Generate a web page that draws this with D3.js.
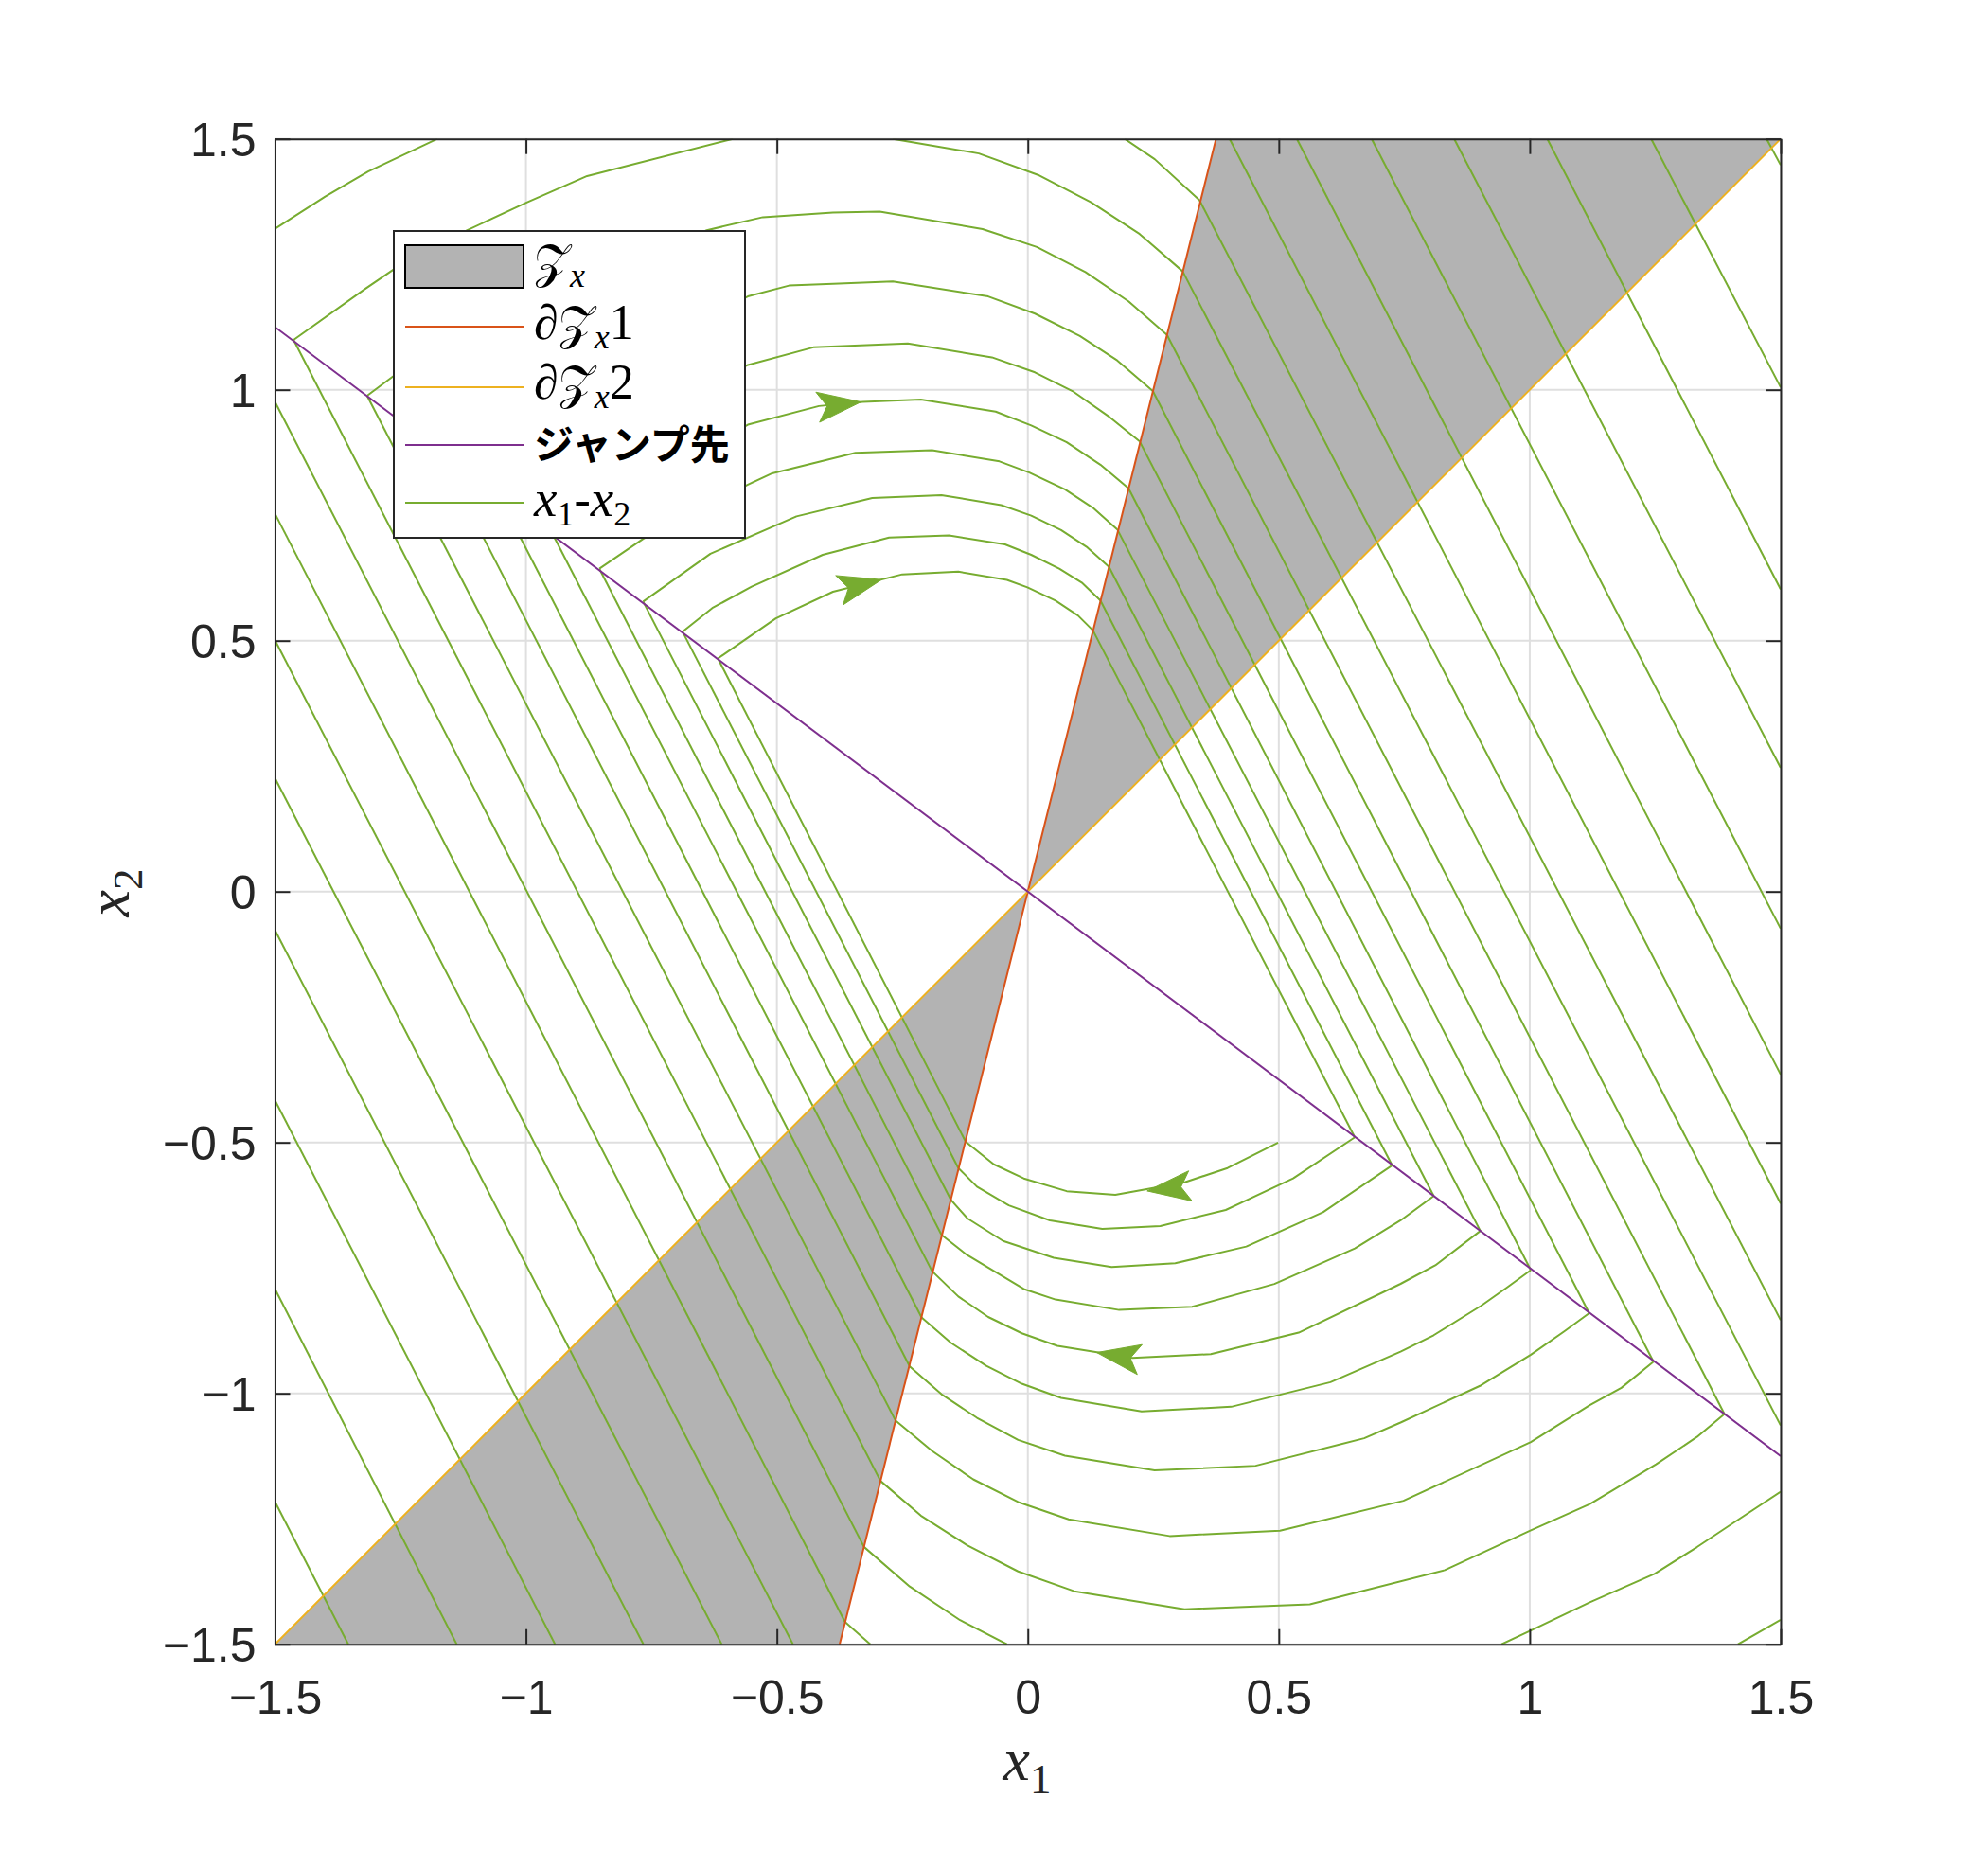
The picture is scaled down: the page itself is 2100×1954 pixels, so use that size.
<!DOCTYPE html>
<html>
<head>
<meta charset="utf-8">
<script src="https://cdn.jsdelivr.net/npm/d3@7"></script>
<style>
html,body{margin:0;padding:0;background:#fff;}
svg{display:block;}
</style>
</head>
<body>
<svg id="chart" width="2100" height="1954"></svg>
<script>
// ---------------- data ----------------
const xTickValues = [-1.5, -1, -0.5, 0, 0.5, 1, 1.5];
const yTickValues = [-1.5, -1, -0.5, 0, 0.5, 1, 1.5];
const xTickLabels = ["\u22121.5", "\u22121", "\u22120.5", "0", "0.5", "1", "1.5"];
const yTickLabels = ["\u22121.5", "\u22121", "\u22120.5", "0", "0.5", "1", "1.5"];

// Z_x region (two wedges)
const zoneRegions = [
  [[0, 0], [0.375, 1.5], [1.5, 1.5]],
  [[0, 0], [-0.375, -1.5], [-1.5, -1.5]]
];
const boundary1 = [[-0.375, -1.5], [0.375, 1.5]];   // ∂Z_x 1
const boundary2 = [[-1.5, -1.5], [1.5, 1.5]];       // ∂Z_x 2
const jumpTarget = [[-1.5, 1.125], [1.5, -1.125]];  // ジャンプ先

// flow arcs in the upper half (clockwise, moving right)
const upperArcs = [
  [[-1.5, 1.321], [-1.4, 1.3851], [-1.3144, 1.4351], [-1.1765, 1.5]],
  [[0.193, 1.5], [0.2528, 1.4596], [0.3421, 1.3776]],
  [[-1.463, 1.0995], [-1.3218, 1.2002], [-1.2637, 1.2398], [-1.1169, 1.318], [-0.9975, 1.3738], [-0.8782, 1.426], [-0.5876, 1.5]],
  [[-0.269, 1.5], [-0.0976, 1.4709], [0.0202, 1.4283], [0.1259, 1.3738], [0.2228, 1.3105], [0.3086, 1.236]],
  [[-1.3165, 0.988], [-1.266, 1.0258], [-0.6398, 1.318], [-0.528, 1.344], [-0.3883, 1.353], [-0.2952, 1.3553], [-0.0901, 1.3203], [0.0179, 1.2845], [0.1148, 1.2345], [0.2006, 1.1764], [0.2773, 1.1093]],
  [[-1.175, 0.881], [-0.5578, 1.1861], [-0.4758, 1.2077], [-0.3883, 1.2113], [-0.269, 1.2158], [-0.079, 1.1861], [0.0141, 1.1518], [0.1037, 1.1071], [0.1781, 1.0586], [0.249, 0.9975]],
  [[-1.055, 0.791], [-0.5578, 1.0496], [-0.4273, 1.0846], [-0.2392, 1.0922], [-0.0716, 1.0647], [0.0141, 1.0347], [0.0888, 0.9975], [0.1633, 0.9453], [0.2229, 0.8969]],
  [[-0.945, 0.709], [-0.5578, 0.9304], [-0.4162, 0.9676], [-0.3287, 0.9757], [-0.2132, 0.9804], [-0.0641, 0.9565], [0.0068, 0.9289], [0.0775, 0.8954], [0.1446, 0.8507], [0.2006, 0.8038]],
  [[-0.8537, 0.6434], [-0.7665, 0.703], [-0.5578, 0.8111], [-0.5093, 0.8335], [-0.3436, 0.8745], [-0.1908, 0.8798], [-0.0565, 0.8573], [0.003, 0.835], [0.0739, 0.8015], [0.1297, 0.7649], [0.1782, 0.7218]],
  [[-0.7665, 0.578], [-0.6324, 0.6733], [-0.4609, 0.7478], [-0.3101, 0.7844], [-0.1721, 0.7902], [-0.053, 0.7702], [0.0068, 0.7493], [0.0663, 0.7203], [0.1186, 0.6859], [0.1617, 0.6471]],
  [[-0.688, 0.518], [-0.6287, 0.5651], [-0.5504, 0.6077], [-0.4087, 0.6711], [-0.2765, 0.7054], [-0.1572, 0.7097], [-0.0454, 0.6918], [0.0068, 0.6711], [0.0626, 0.6434], [0.1074, 0.6158], [0.1446, 0.58]],
  [[-0.6175, 0.4646], [-0.502, 0.5444], [-0.3883, 0.5975], [-0.2503, 0.6322], [-0.1385, 0.6375], [-0.0417, 0.6211], [-0.0008, 0.6062], [0.0552, 0.58], [0.0999, 0.5502], [0.1297, 0.5205]]
];

// flow arcs in the lower half (clockwise, moving left)
const lowerArcs = [
  [[0.4986, -0.5003], [0.398, -0.551], [0.3124, -0.5793], [0.1743, -0.6045], [0.0775, -0.5971], [-0.0081, -0.5717], [-0.0679, -0.5435], [-0.1237, -0.4988]],
  [[0.6515, -0.4897], [0.5286, -0.5717], [0.3943, -0.6345], [0.2639, -0.6665], [0.1483, -0.6724], [0.0439, -0.6552], [-0.038, -0.6254], [-0.1014, -0.5881], [-0.1385, -0.551]],
  [[0.726, -0.5457], [0.5881, -0.6389], [0.4352, -0.7074], [0.2937, -0.7408], [0.167, -0.7484], [0.0515, -0.7299], [-0.0492, -0.6963], [-0.1201, -0.6515], [-0.1534, -0.6143]],
  [[0.8087, -0.6068], [0.7427, -0.6552], [0.6515, -0.7112], [0.4913, -0.7819], [0.3272, -0.8275], [0.1819, -0.8338], [0.0552, -0.813], [-0.0081, -0.792], [-0.0679, -0.7559], [-0.1237, -0.7223], [-0.1721, -0.684]],
  [[0.9016, -0.6762], [0.8119, -0.7448], [0.7427, -0.7817], [0.5397, -0.879], [0.3645, -0.9218], [0.2079, -0.9293], [0.0588, -0.9054], [-0.0119, -0.8803], [-0.079, -0.8477], [-0.1385, -0.8069], [-0.1908, -0.7565]],
  [[1.0022, -0.7544], [0.9563, -0.7879], [0.9029, -0.8256], [0.8087, -0.8841], [0.7427, -0.9167], [0.603, -0.9777], [0.4054, -1.0267], [0.2266, -1.036], [0.0663, -1.009], [-0.0119, -0.9808], [-0.0827, -0.945], [-0.1534, -0.8992], [-0.2117, -0.8488]],
  [[1.1184, -0.8401], [1.0694, -0.876], [1.0022, -0.9231], [0.9029, -0.984], [0.7427, -1.0581], [0.6701, -1.0895], [0.4539, -1.1442], [0.2526, -1.1536], [0.0739, -1.1241], [-0.0194, -1.0927], [-0.1014, -1.0487], [-0.1721, -1.0016], [-0.2354, -0.9463]],
  [[1.2466, -0.9369], [1.1825, -0.989], [1.1197, -1.0236], [1.0022, -1.0971], [0.7484, -1.214], [0.5024, -1.2737], [0.2826, -1.2843], [0.0812, -1.2511], [-0.0194, -1.2165], [-0.1088, -1.1713], [-0.1908, -1.1147], [-0.2639, -1.0537]],
  [[1.388, -1.041], [1.3333, -1.0868], [1.2517, -1.1415], [1.1197, -1.2207], [1.0022, -1.273], [0.8307, -1.3522], [0.5619, -1.4204], [0.3124, -1.4301], [0.0924, -1.3943], [-0.0194, -1.3548], [-0.1201, -1.3031], [-0.2132, -1.2436], [-0.2937, -1.1744]],
  [[1.5, -1.196], [1.3993, -1.2623], [1.3333, -1.3063], [1.2485, -1.3597], [1.1197, -1.4163], [1.0022, -1.4724], [0.9437, -1.5]],
  [[-0.0417, -1.5], [-0.135, -1.4519], [-0.2354, -1.3849], [-0.3265, -1.306]],
  [[1.5, -1.4514], [1.415, -1.5]],
  [[-0.3139, -1.5], [-0.3644, -1.4552]]
];

// jumps from ∂Z_x1 (lower-left) to the jump target line (upper-left)
const jumpsUpLeft = [
  [[-0.1237, -0.4988], [-0.6175, 0.4646]],
  [[-0.1385, -0.551], [-0.688, 0.518]],
  [[-0.1534, -0.6143], [-0.7665, 0.578]],
  [[-0.1721, -0.684], [-0.8537, 0.6434]],
  [[-0.1908, -0.7565], [-0.945, 0.709]],
  [[-0.2117, -0.8488], [-1.055, 0.791]],
  [[-0.2354, -0.9463], [-1.175, 0.881]],
  [[-0.2639, -1.0537], [-1.3165, 0.988]],
  [[-0.2937, -1.1744], [-1.463, 1.0995]],
  [[-0.3265, -1.306], [-1.5, 0.976]],
  [[-0.3644, -1.4552], [-1.5, 0.753]]
];

// jumps from ∂Z_x1 (upper-right) to the jump target line (lower-right)
const jumpsDownRight = [
  [[0.1297, 0.5205], [0.6515, -0.4897]],
  [[0.1446, 0.58], [0.726, -0.5457]],
  [[0.1617, 0.6471], [0.8087, -0.6068]],
  [[0.1782, 0.7218], [0.9016, -0.6762]],
  [[0.2006, 0.8038], [1.0022, -0.7544]],
  [[0.2229, 0.8969], [1.1184, -0.8401]],
  [[0.249, 0.9975], [1.2466, -0.9369]],
  [[0.2773, 1.1093], [1.388, -1.041]],
  [[0.3086, 1.236], [1.5, -1.064]],
  [[0.3421, 1.3776], [1.5, -0.854]]
];

// jump segments entering from the top edge
const topEdgeSegments = [
  [[0.402, 1.5], [1.5, -0.6217]],
  [[0.536, 1.5], [1.5, -0.3645]],
  [[0.685, 1.5], [1.5, -0.0739]],
  [[0.8495, 1.5], [1.5, 0.2466]],
  [[1.035, 1.5], [1.5, 0.6024]],
  [[1.242, 1.5], [1.5, 1.005]],
  [[1.472, 1.5], [1.5, 1.448]]
];

// jump segments entering from the bottom edge
const bottomEdgeSegments = [
  [[-1.354, -1.5], [-1.5, -1.216]],
  [[-1.138, -1.5], [-1.5, -0.792]],
  [[-0.942, -1.5], [-1.5, -0.416]],
  [[-0.766, -1.5], [-1.5, -0.077]],
  [[-0.61, -1.5], [-1.5, 0.226]],
  [[-0.468, -1.5], [-1.5, 0.501]]
];

// direction arrows on trajectories
const arrowTips  = [[-0.3325, 0.9757], [-0.2914, 0.6217], [0.2377, -0.5966], [0.1372, -0.9186]];
const arrowTails = [[-0.4147, 0.9657], [-0.3759, 0.6004], [0.3242, -0.5866], [0.223, -0.9326]];

// legend
const legendKinds = ["patch", "line", "line", "line", "line"];
const legendColors = ["#b3b3b3", "#d95319", "#edb120", "#7e2f8e", "#77ac30"];
const legendLabels = [
  [{t: "\u{1D4B5}", s: "cal"}, {t: "x", s: "sub"}],
  [{t: "\u2202", s: "rm"}, {t: "\u{1D4B5}", s: "cal"}, {t: "x", s: "sub"}, {t: "1", s: "rm"}],
  [{t: "\u2202", s: "rm"}, {t: "\u{1D4B5}", s: "cal"}, {t: "x", s: "sub"}, {t: "2", s: "rm"}],
  [{t: "ジャンプ先", s: "cjk"}],
  [{t: "x", s: "it"}, {t: "1", s: "subrm"}, {t: "-", s: "rm"}, {t: "x", s: "it"}, {t: "2", s: "subrm"}]
];

// ---------------- drawing ----------------
const svg = d3.select("#chart");
svg.append("rect").attr("width", 2100).attr("height", 1954).attr("fill", "#fff");

const L = 290.5, R = 1881, T = 146.7, B = 1736.7;
const x = d3.scaleLinear().domain([-1.5, 1.5]).range([L, R]);
const y = d3.scaleLinear().domain([-1.5, 1.5]).range([B, T]);
const line = d3.line().x(d => x(d[0])).y(d => y(d[1]));

svg.append("defs").append("clipPath").attr("id", "plotclip")
  .append("rect").attr("x", L).attr("y", T).attr("width", R - L).attr("height", B - T);

// grid
const grid = svg.append("g");
grid.selectAll("line.gx").data(xTickValues).join("line")
  .attr("x1", d => x(d)).attr("x2", d => x(d)).attr("y1", T).attr("y2", B)
  .attr("stroke", "#dfdfdf").attr("stroke-width", 2);
grid.selectAll("line.gy").data(yTickValues).join("line")
  .attr("y1", d => y(d)).attr("y2", d => y(d)).attr("x1", L).attr("x2", R)
  .attr("stroke", "#dfdfdf").attr("stroke-width", 2);

const plot = svg.append("g").attr("clip-path", "url(#plotclip)");

// Z_x patch
plot.selectAll("path.zone").data(zoneRegions).join("path")
  .attr("d", d => line(d) + "Z").attr("fill", "#b3b3b3").attr("stroke", "none");

// trajectories
const green = "#77ac30";
const allTraj = [].concat(upperArcs, lowerArcs, jumpsUpLeft, jumpsDownRight, topEdgeSegments, bottomEdgeSegments);
plot.selectAll("path.traj").data(allTraj).join("path")
  .attr("d", d => line(d)).attr("fill", "none").attr("stroke", green)
  .attr("stroke-width", 2).attr("stroke-linejoin", "round");

// boundaries and jump target
plot.append("path").attr("d", line(boundary1)).attr("stroke", "#d95319").attr("stroke-width", 2).attr("fill", "none");
plot.append("path").attr("d", line(boundary2)).attr("stroke", "#edb120").attr("stroke-width", 2).attr("fill", "none");
plot.append("path").attr("d", line(jumpTarget)).attr("stroke", "#7e2f8e").attr("stroke-width", 2).attr("fill", "none");

// arrows
function arrowPath(tip, tail) {
  const tx = x(tip[0]), ty = y(tip[1]), bx = x(tail[0]), by = y(tail[1]);
  let ux = tx - bx, uy = ty - by;
  const n = Math.hypot(ux, uy); ux /= n; uy /= n;
  const nx = -uy, ny = ux;
  const len = 46, hw = 16, notch = 10;
  return `M${tx},${ty}L${tx - len * ux + hw * nx},${ty - len * uy + hw * ny}` +
         `L${tx - (len - notch) * ux},${ty - (len - notch) * uy}` +
         `L${tx - len * ux - hw * nx},${ty - len * uy - hw * ny}Z`;
}
plot.selectAll("path.arrow").data(arrowTips).join("path")
  .attr("d", (d, i) => arrowPath(d, arrowTails[i]))
  .attr("fill", green).attr("stroke", green).attr("stroke-width", 1);

// axes
const axColor = "#262626";
const tickFont = "'Liberation Sans', Arial, Helvetica, sans-serif";
function styleAxis(g) {
  g.select(".domain").attr("stroke", axColor).attr("stroke-width", 2);
  g.selectAll(".tick line").attr("stroke", axColor).attr("stroke-width", 2);
  g.selectAll(".tick text").attr("fill", axColor).attr("font-family", tickFont).attr("font-size", 50);
}
const gxB = svg.append("g").attr("transform", `translate(0,${B})`)
  .call(d3.axisBottom(x).tickValues(xTickValues).tickFormat((d, i) => xTickLabels[i])
    .tickSizeInner(-16).tickSizeOuter(0).tickPadding(38));
styleAxis(gxB);
const gxT = svg.append("g").attr("transform", `translate(0,${T})`)
  .call(d3.axisTop(x).tickValues(xTickValues).tickFormat("").tickSizeInner(-16).tickSizeOuter(0));
styleAxis(gxT);
const gyL = svg.append("g").attr("transform", `translate(${L},0)`)
  .call(d3.axisLeft(y).tickValues(yTickValues).tickFormat((d, i) => yTickLabels[i])
    .tickSizeInner(-16).tickSizeOuter(0).tickPadding(20));
styleAxis(gyL);
gyL.selectAll(".tick text").attr("dy", "0.36em");
const gyR = svg.append("g").attr("transform", `translate(${R},0)`)
  .call(d3.axisRight(y).tickValues(yTickValues).tickFormat("").tickSizeInner(-16).tickSizeOuter(0));
styleAxis(gyR);

// axis labels
const mathFont = "'Liberation Serif', 'DejaVu Serif', serif";
const xl = svg.append("text").attr("x", 1085).attr("y", 1880).attr("text-anchor", "middle")
  .attr("font-family", mathFont).attr("fill", axColor);
xl.append("tspan").attr("font-style", "italic").attr("font-size", 64).text("x");
xl.append("tspan").attr("font-size", 45).attr("dy", 14).text("1");
const yl = svg.append("text").attr("transform", "translate(136,943) rotate(-90)").attr("text-anchor", "middle")
  .attr("font-family", mathFont).attr("fill", axColor);
yl.append("tspan").attr("font-style", "italic").attr("font-size", 64).text("x");
yl.append("tspan").attr("font-size", 45).attr("dy", 14).text("2");

// legend
const lg = svg.append("g");
lg.append("rect").attr("x", 416).attr("y", 244).attr("width", 371).attr("height", 324)
  .attr("fill", "#fff").attr("stroke", axColor).attr("stroke-width", 2);
const rowY = [281.5, 345, 409, 470, 531];
legendKinds.forEach((k, i) => {
  if (k === "patch") {
    lg.append("rect").attr("x", 428).attr("y", rowY[i] - 22.5).attr("width", 125).attr("height", 45)
      .attr("fill", legendColors[i]).attr("stroke", "#000").attr("stroke-width", 2);
  } else {
    lg.append("line").attr("x1", 428).attr("x2", 553).attr("y1", rowY[i]).attr("y2", rowY[i])
      .attr("stroke", legendColors[i]).attr("stroke-width", 2);
  }
});
const baseY = [293, 358, 421, 485, 545];
legendLabels.forEach((parts, i) => {
  const t = lg.append("text").attr("x", 564).attr("y", baseY[i]).attr("fill", "#000");
  let shift = 0;
  parts.forEach(p => {
    const sp = t.append("tspan").text(p.t);
    let want = 0;
    if (p.s === "cal") { sp.attr("font-family", "'DejaVu Serif', 'DejaVu Sans', serif").attr("font-size", 50); }
    else if (p.s === "sub") { sp.attr("font-family", mathFont).attr("font-style", "italic").attr("font-size", 36); want = 10; }
    else if (p.s === "subrm") { sp.attr("font-family", mathFont).attr("font-size", 36); want = 10; }
    else if (p.s === "it") { sp.attr("font-family", mathFont).attr("font-style", "italic").attr("font-size", 55); }
    else if (p.s === "cjk") { sp.attr("font-family", "'Noto Sans CJK JP', sans-serif").attr("font-weight", "bold").attr("font-size", 42); }
    else { sp.attr("font-family", mathFont).attr("font-size", 52); }
    if (want !== shift) { sp.attr("dy", want - shift); shift = want; }
  });
});
</script>
</body>
</html>
